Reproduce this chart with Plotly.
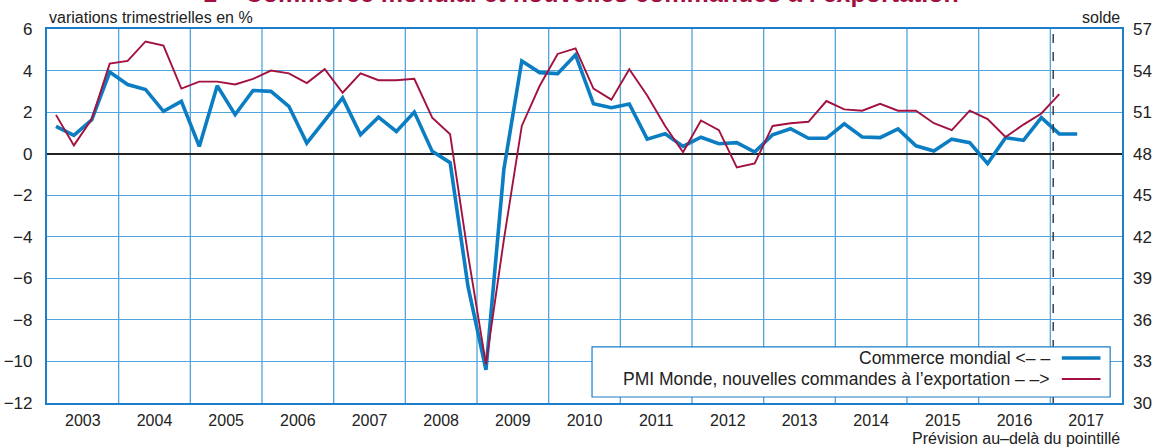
import plotly.graph_objects as go

# ---------------- data ----------------
years = list(range(2003, 2018))
year_labels = [str(y) for y in years]

# Commerce mondial, variations trimestrielles en % (2003T1 .. 2017T2)
commerce = [
    1.31, 0.88, 1.63, 3.93,   # 2003
    3.33, 3.09, 2.04, 2.52,   # 2004
    0.35, 3.27, 1.88, 3.04,   # 2005
    3.00, 2.28, 0.51, 1.60,   # 2006
    2.68, 0.91, 1.76, 1.07,   # 2007
    2.00, 0.11, -0.43, -6.40, # 2008
    -10.4, -0.75, 4.46, 3.90, # 2009
    3.85, 4.76, 2.40, 2.21,   # 2010
    2.39, 0.70, 0.96, 0.35,   # 2011
    0.79, 0.48, 0.53, 0.08,   # 2012
    0.91, 1.20, 0.74, 0.74,   # 2013
    1.44, 0.80, 0.77, 1.19,   # 2014
    0.38, 0.13, 0.70, 0.53,   # 2015
    -0.48, 0.77, 0.64, 1.73,  # 2016
    0.95, 0.95,               # 2017
]

# PMI Monde, nouvelles commandes a l'exportation, solde (2003T1 .. 2017T1)
pmi = [
    50.8, 48.6, 50.5, 54.5,   # 2003
    54.7, 56.1, 55.8, 52.7,   # 2004
    53.2, 53.2, 53.0, 53.4,   # 2005
    54.0, 53.8, 53.1, 54.1,   # 2006
    52.4, 53.8, 53.3, 53.3,   # 2007
    53.4, 50.6, 49.4, 40.7,   # 2008
    32.8, 41.8, 50.0, 52.9,   # 2009
    55.2, 55.6, 52.7, 51.9,   # 2010
    54.1, 52.2, 50.0, 48.1,   # 2011
    50.4, 49.7, 47.0, 47.3,   # 2012
    50.0, 50.2, 50.3, 51.8,   # 2013
    51.2, 51.1, 51.6, 51.1,   # 2014
    51.1, 50.2, 49.7, 51.1,   # 2015
    50.5, 49.2, 50.1, 50.9,   # 2016
    52.3,                     # 2017
]

left_ticks = list(range(-12, 7, 2))
right_ticks = list(range(30, 58, 3))
forecast_from = 2017.04

# quarter centres as decimal years
def quarter_x(n):
    return [2003 + i / 4 + 0.125 for i in range(n)]

# ---------------- style ----------------
BLUE = "#0B7DC2"
RED = "#A3123E"
GRID = "#4FA5DC"
BORDER = "#1C7EC6"
TXT = "#222222"
FONT = "Liberation Sans, Arial, sans-serif"

fig = go.Figure()
fig.add_trace(go.Scatter(x=quarter_x(len(commerce)), y=commerce, mode="lines",
                         line=dict(color=BLUE, width=3.6), yaxis="y",
                         showlegend=False, hoverinfo="skip"))
fig.add_trace(go.Scatter(x=quarter_x(len(pmi)), y=pmi, mode="lines",
                         line=dict(color=RED, width=1.9), yaxis="y2",
                         showlegend=False, hoverinfo="skip"))

shapes = []
# vertical year grid lines
for y in years[1:]:
    shapes.append(dict(type="line", xref="x", yref="paper", x0=y, x1=y, y0=0, y1=1,
                       line=dict(color=GRID, width=1.3), layer="below"))
# forecast dashed line
shapes.append(dict(type="line", xref="x", yref="paper", x0=forecast_from, x1=forecast_from,
                   y0=0, y1=1, line=dict(color="#333333", width=1.4, dash="dash"), layer="above"))
# legend box
lx0, lx1, ly0, ly1 = 0.507, 0.989, 0.016, 0.150
shapes.append(dict(type="rect", xref="paper", yref="paper", x0=lx0, x1=lx1, y0=ly0, y1=ly1,
                   fillcolor="white", line=dict(color=BORDER, width=1.2), layer="above"))
shapes.append(dict(type="line", xref="paper", yref="paper", x0=0.944, x1=0.980, y0=0.1203, y1=0.1203,
                   line=dict(color=BLUE, width=3.6), layer="above"))
shapes.append(dict(type="line", xref="paper", yref="paper", x0=0.944, x1=0.980, y0=0.0642, y1=0.0642,
                   line=dict(color=RED, width=1.9), layer="above"))

annotations = [
    dict(text="Commerce mondial <– –", xref="paper", yref="paper", x=0.935, y=0.1203,
         xanchor="right", yanchor="middle", showarrow=False, font=dict(size=17.5, color=TXT)),
    dict(text="PMI Monde, nouvelles commandes à l’exportation – –>", xref="paper", yref="paper",
         x=0.935, y=0.0642, xanchor="right", yanchor="middle", showarrow=False,
         font=dict(size=17.5, color=TXT)),
    dict(text="variations trimestrielles en %", xref="paper", yref="paper", x=0, y=1.031,
         xanchor="left", yanchor="middle", showarrow=False, font=dict(size=16, color=TXT)),
    dict(text="solde", xref="paper", yref="paper", x=1, y=1.031,
         xanchor="right", yanchor="middle", showarrow=False, font=dict(size=16, color=TXT)),
    dict(text="Prévision au–delà du pointillé", xref="paper", yref="paper", x=1, y=-0.096,
         xanchor="right", yanchor="middle", showarrow=False, font=dict(size=16, color=TXT)),
    dict(text="<b>1 – Commerce mondial et nouvelles commandes à l’exportation</b>",
         xref="paper", yref="paper", x=0.497, y=1.053, xanchor="center", yanchor="bottom",
         showarrow=False, font=dict(size=25, color="#A01040")),
]

fig.update_layout(
    width=1156, height=448,
    margin=dict(l=47, r=34, t=29, b=45, autoexpand=False),
    paper_bgcolor="white", plot_bgcolor="white",
    font=dict(family=FONT, size=17, color=TXT),
    shapes=shapes, annotations=annotations,
    xaxis=dict(range=[2003, 2018], tickmode="array", automargin=False,
               tickvals=[y + 0.5 for y in years], ticktext=year_labels,
               showgrid=False, zeroline=False, ticks="",
               showline=True, linecolor=BORDER, linewidth=2.2, mirror=True,
               ticklabelstandoff=2, tickfont=dict(size=16)),
    yaxis=dict(range=[-12, 6], tickmode="array", tickvals=left_ticks, automargin=False,
               showgrid=True, gridcolor=GRID, gridwidth=1.3,
               zeroline=True, zerolinecolor="#222222", zerolinewidth=1.6,
               ticks="", showline=True, linecolor=BORDER, linewidth=2.2, mirror=True,
               ticklabelstandoff=9, tickfont=dict(size=17)),
    yaxis2=dict(range=[30, 57], tickmode="array", tickvals=right_ticks, automargin=False,
                overlaying="y", side="right", showgrid=False, zeroline=False,
                ticks="", showline=False, ticklabelstandoff=10, tickfont=dict(size=17)),
)

fig.write_html("out.html", config={"displayModeBar": False},
               post_script="document.body.style.margin='0px';document.body.style.overflow='hidden';")
